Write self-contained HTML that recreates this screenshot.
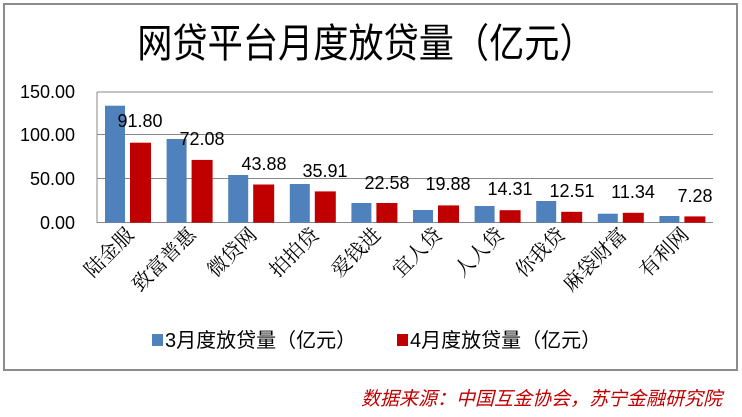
<!DOCTYPE html>
<html><head><meta charset="utf-8"><style>
body{margin:0;background:#fff;width:742px;height:412px;overflow:hidden}
</style></head><body>
<svg width="742" height="412" xmlns="http://www.w3.org/2000/svg" font-family="'Liberation Sans','Noto Sans CJK SC',sans-serif">
<rect x="4" y="4" width="733" height="366" fill="#fff" stroke="#8c8c8c" stroke-width="2"/>
<text x="366" y="57" text-anchor="middle" font-size="40" transform="translate(366 0) scale(0.88 1) translate(-366 0)">网贷平台月度放贷量（亿元）</text>
<g stroke="#888" stroke-width="1">
<line x1="97" y1="92" x2="713" y2="92"/>
<line x1="97" y1="134.5" x2="713" y2="134.5"/>
<line x1="97" y1="178.5" x2="713" y2="178.5"/>
<line x1="97" y1="222.5" x2="713" y2="222.5"/>
<line x1="97" y1="92" x2="97" y2="223"/>
</g>
<g font-size="18" text-anchor="end" fill="#000">
<text x="75" y="98">150.00</text>
<text x="75" y="141">100.00</text>
<text x="75" y="185">50.00</text>
<text x="75" y="229">0.00</text>
</g>
<g fill="#4f81bd">
<rect x="105" y="105.7" width="20" height="117"/>
<rect x="166.6" y="139" width="20" height="83.7"/>
<rect x="228.2" y="175" width="20" height="47.7"/>
<rect x="289.8" y="184" width="20" height="38.7"/>
<rect x="351.4" y="203" width="20" height="19.7"/>
<rect x="413" y="210" width="20" height="12.7"/>
<rect x="474.6" y="206" width="20" height="16.7"/>
<rect x="536.2" y="201" width="20" height="21.7"/>
<rect x="597.8" y="213.7" width="20" height="9"/>
<rect x="659.4" y="216" width="20" height="6.7"/>
</g>
<g fill="#c00000">
<rect x="130" y="142.7" width="21" height="80"/>
<rect x="191.6" y="159.9" width="21" height="62.8"/>
<rect x="253.2" y="184.5" width="21" height="38.2"/>
<rect x="314.8" y="191.4" width="21" height="31.3"/>
<rect x="376.4" y="203" width="21" height="19.7"/>
<rect x="438" y="205.4" width="21" height="17.3"/>
<rect x="499.6" y="210.2" width="21" height="12.5"/>
<rect x="561.2" y="211.8" width="21" height="10.9"/>
<rect x="622.8" y="212.8" width="21" height="9.9"/>
<rect x="684.4" y="216.4" width="21" height="6.3"/>
</g>
<g font-size="18" text-anchor="middle" fill="#000">
<text x="140" y="127">91.80</text>
<text x="202" y="145">72.08</text>
<text x="264" y="170">43.88</text>
<text x="325" y="177">35.91</text>
<text x="387" y="189">22.58</text>
<text x="448" y="190">19.88</text>
<text x="510" y="195">14.31</text>
<text x="572" y="197">12.51</text>
<text x="633" y="198">11.34</text>
<text x="695" y="202">7.28</text>
</g>
<g font-size="20" text-anchor="end" fill="#000" font-family="'Liberation Serif','Noto Serif CJK SC',serif">
<text transform="translate(135 236) rotate(-45)">陆金服</text>
<text transform="translate(197 236) rotate(-45)">致富普惠</text>
<text transform="translate(258 236) rotate(-45)">微贷网</text>
<text transform="translate(320 236) rotate(-45)">拍拍贷</text>
<text transform="translate(382 236) rotate(-45)">爱钱进</text>
<text transform="translate(443 236) rotate(-45)">宜人贷</text>
<text transform="translate(505 236) rotate(-45)">人人贷</text>
<text transform="translate(566 236) rotate(-45)">你我贷</text>
<text transform="translate(628 236) rotate(-45)">麻袋财富</text>
<text transform="translate(690 236) rotate(-45)">有利网</text>
</g>
<rect x="152" y="334" width="11" height="12" fill="#4f81bd"/>
<text x="165" y="347" font-size="20">3月度放贷量（亿元）</text>
<rect x="397" y="334" width="11" height="12" fill="#c00000"/>
<text x="410" y="347" font-size="20">4月度放贷量（亿元）</text>
<text x="722" y="405" font-size="19" text-anchor="end" fill="#c00000" font-style="italic">数据来源：中国互金协会，苏宁金融研究院</text>
</svg>
</body></html>
